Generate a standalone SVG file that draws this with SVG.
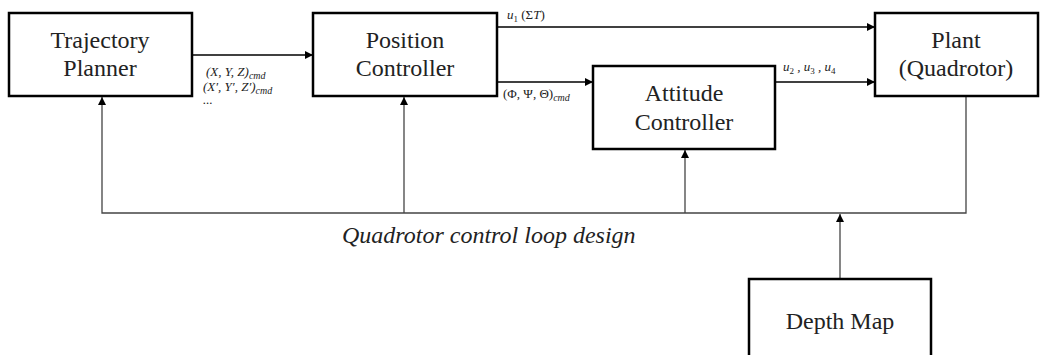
<svg xmlns="http://www.w3.org/2000/svg" width="1048" height="355" viewBox="0 0 1048 355">
  <style>
    .box { fill: #fff; stroke: #000; stroke-width: 2.5; }
    .lbl { font-size: 24px; fill: #222; text-anchor: middle; }
    .math { font-size: 13px; font-style: italic; fill: #222; }
    .rm { font-style: normal; }
    .cap { font-size: 24px; font-style: italic; fill: #222; }
    .wire { fill: none; stroke: #000; stroke-width: 1.3; }
    .fb { fill: none; stroke: #444; stroke-width: 1.3; }
  </style>
  <defs>
    <marker id="arr" viewBox="0 0 10 10" refX="10" refY="5" markerWidth="8" markerHeight="8" markerUnits="userSpaceOnUse" orient="auto">
      <path d="M0,0 L10,5 L0,10 z" fill="#000"/>
    </marker>
  </defs>

  <rect width="1048" height="355" fill="#fff"/>

  <!-- signal and feedback wiring -->
  <g id="connectors">
    <line class="wire" x1="192" y1="55" x2="313" y2="55" marker-end="url(#arr)"/>
    <line class="wire" x1="497" y1="27" x2="875" y2="27" marker-end="url(#arr)"/>
    <line class="wire" x1="497" y1="82" x2="593" y2="82" marker-end="url(#arr)"/>
    <line class="wire" x1="775" y1="82" x2="875" y2="82" marker-end="url(#arr)"/>
    <polyline class="fb" points="966,96 966,213 102,213 102,97" marker-end="url(#arr)"/>
    <line class="fb" x1="404" y1="213" x2="404" y2="97" marker-end="url(#arr)"/>
    <line class="fb" x1="685" y1="213" x2="685" y2="150" marker-end="url(#arr)"/>
    <line class="fb" x1="840" y1="279" x2="840" y2="214" marker-end="url(#arr)"/>

    <text class="math" font-family="Liberation Serif" x="206" y="76">(X, Y, Z)<tspan dy="3" font-size="10">cmd</tspan></text>
    <text class="math" font-family="Liberation Serif" x="203" y="91">(X′, Y′, Z′)<tspan dy="3" font-size="10">cmd</tspan></text>
    <text class="math" font-family="Liberation Serif" x="203" y="104">...</text>
    <text class="math" font-family="Liberation Serif" x="507" y="19">u<tspan dy="3" font-size="9" class="rm">1</tspan><tspan dy="-3" class="rm"> (Σ</tspan>T<tspan class="rm">)</tspan></text>
    <text class="math" font-family="Liberation Serif" x="503" y="98"><tspan class="rm">(Φ, Ψ, Θ)</tspan><tspan dy="3" font-size="10">cmd</tspan></text>
    <text class="math" font-family="Liberation Serif" x="783" y="71">u<tspan dy="3" font-size="9" class="rm">2</tspan><tspan dy="-3"> , u</tspan><tspan dy="3" font-size="9" class="rm">3</tspan><tspan dy="-3"> , u</tspan><tspan dy="3" font-size="9" class="rm">4</tspan></text>

    <text class="cap" font-family="Liberation Serif" x="342" y="243">Quadrotor control loop design</text>
  </g>

  <g id="trajectory-planner">
    <rect class="box" x="9" y="13" width="183" height="83"/>
    <text class="lbl" font-family="Liberation Serif" x="100" y="48">Trajectory</text>
    <text class="lbl" font-family="Liberation Serif" x="100" y="76">Planner</text>
  </g>

  <g id="position-controller">
    <rect class="box" x="313" y="13" width="184" height="83"/>
    <text class="lbl" font-family="Liberation Serif" x="405" y="48">Position</text>
    <text class="lbl" font-family="Liberation Serif" x="405" y="76">Controller</text>
  </g>

  <g id="attitude-controller">
    <rect class="box" x="593" y="66" width="182" height="83"/>
    <text class="lbl" font-family="Liberation Serif" x="684" y="101">Attitude</text>
    <text class="lbl" font-family="Liberation Serif" x="684" y="130">Controller</text>
  </g>

  <g id="plant">
    <rect class="box" x="875" y="13" width="163" height="83"/>
    <text class="lbl" font-family="Liberation Serif" x="956" y="48">Plant</text>
    <text class="lbl" font-family="Liberation Serif" x="956" y="76">(Quadrotor)</text>
  </g>

  <g id="depth-map">
    <rect class="box" x="749" y="279" width="182" height="90"/>
    <text class="lbl" font-family="Liberation Serif" x="840" y="329">Depth Map</text>
  </g>
</svg>
